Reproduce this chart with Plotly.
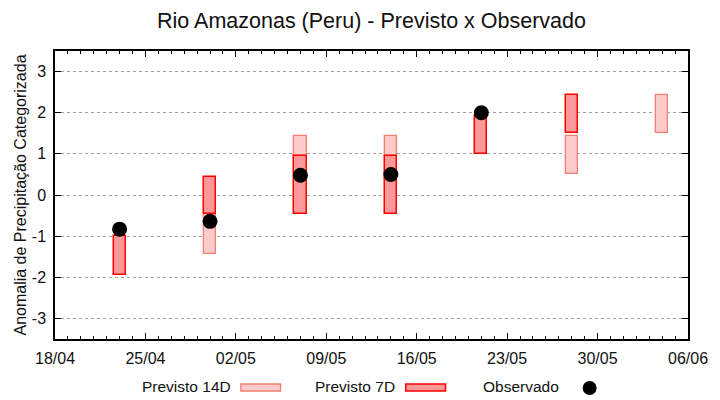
import plotly.graph_objects as go

# ---- data ----
dates = ["2024-04-23", "2024-04-30", "2024-05-07", "2024-05-14",
         "2024-05-21", "2024-05-28", "2024-06-04"]
prev7_low = [-1.95, -0.45, -0.45, -0.45, 1.00, 1.50, None]
prev7_high = [-1.00, 0.43, 0.95, 0.95, 1.93, 2.43, None]
prev14_low = [None, -1.44, 0.95, 0.95, None, 0.50, 1.50]
prev14_high = [None, -0.45, 1.43, 1.43, None, 1.43, 2.43]
observado = [-0.83, -0.64, 0.48, 0.50, 2.00, None, None]

x_ticks = ["2024-04-18", "2024-04-25", "2024-05-02", "2024-05-09",
           "2024-05-16", "2024-05-23", "2024-05-30", "2024-06-06"]
x_ticklabels = ["18/04", "25/04", "02/05", "09/05", "16/05", "23/05", "30/05", "06/06"]
y_ticks = [-3, -2, -1, 0, 1, 2, 3]

DAY = 86400000
FONT = "Liberation Sans, Arial, sans-serif"


def ranges(lows, highs):
    xs, bases, hs = [], [], []
    for d, lo, hi in zip(dates, lows, highs):
        if lo is None or hi is None:
            continue
        xs.append(d)
        bases.append(lo)
        hs.append(hi - lo)
    return xs, bases, hs


fig = go.Figure()

x14, b14, h14 = ranges(prev14_low, prev14_high)
fig.add_trace(go.Bar(x=x14, y=h14, base=b14, width=[0.94 * DAY] * len(x14),
                     marker=dict(color="#ffcaca", line=dict(color="#f08070", width=1.3)),
                     name="Previsto 14D", showlegend=False))

x7, b7, h7 = ranges(prev7_low, prev7_high)
fig.add_trace(go.Bar(x=x7, y=h7, base=b7, width=[0.94 * DAY] * len(x7),
                     marker=dict(color="#ff9999", line=dict(color="#ff0000", width=1.5)),
                     name="Previsto 7D", showlegend=False))

xo = [d for d, v in zip(dates, observado) if v is not None]
yo = [v for v in observado if v is not None]
fig.add_trace(go.Scatter(x=xo, y=yo, mode="markers",
                         marker=dict(color="black", size=15),
                         name="Observado", showlegend=False))

# ---- layout geometry (pixels) ----
W, H = 720, 400
L, R, T, B = 55, 692, 51, 339
pw, ph = R - L, B - T


def px(xp):
    return (xp - L) / pw


def py(yp):
    return (B - yp) / ph


shapes = []
annotations = []
# custom legend (gnuplot-like: text then swatch)
leg_y = 386
for text, tx_end, sw0, sw1, fill, edge, ew in [
    ("Previsto 14D", 234, 242, 282, "#ffcaca", "#f08070", 1.3),
    ("Previsto 7D", 399, 408, 448, "#ff9999", "#ff0000", 1.5),
]:
    annotations.append(dict(xref="paper", yref="paper", x=px(tx_end), y=py(leg_y),
                            text=text, showarrow=False, xanchor="right", yanchor="middle",
                            font=dict(family=FONT, size=15.5, color="#111111")))
    shapes.append(dict(type="rect", xref="paper", yref="paper",
                       x0=px(sw0), x1=px(sw1), y0=py(391), y1=py(384),
                       fillcolor=fill, line=dict(color=edge, width=ew)))
annotations.append(dict(xref="paper", yref="paper", x=px(564), y=py(leg_y),
                        text="Observado", showarrow=False, xanchor="right", yanchor="middle",
                        font=dict(family=FONT, size=15.5, color="#111111")))
shapes.append(dict(type="circle", xref="paper", yref="paper",
                   xsizemode="pixel", ysizemode="pixel",
                   xanchor=px(593), yanchor=py(388),
                   x0=-7, x1=7, y0=-7, y1=7,
                   fillcolor="black", line=dict(color="black", width=0)))

fig.update_layout(
    width=W, height=H,
    margin=dict(l=L, r=W - R, t=T, b=H - B, pad=0),
    paper_bgcolor="white", plot_bgcolor="white",
    font=dict(family=FONT, size=16, color="#111111"),
    title=dict(text="Rio Amazonas (Peru) - Previsto x Observado",
               xref="paper", x=0.5, xanchor="center", y=1 - 20 / H, yanchor="middle",
               font=dict(family=FONT, size=21.5, color="#111111")),
    barmode="overlay",
    bargap=0,
    shapes=shapes,
    annotations=annotations,
    showlegend=False,
)

fig.update_xaxes(
    type="date",
    range=["2024-04-18", "2024-06-06"],
    tickmode="array", tickvals=x_ticks, ticktext=x_ticklabels,
    ticks="inside", ticklen=6, tickwidth=1, tickcolor="black",
    minor=dict(dtick=DAY, ticks="inside", ticklen=3, tickwidth=1, tickcolor="black",
               tick0="2024-04-18", showgrid=False),
    showline=True, linecolor="black", linewidth=1.5, mirror="ticks",
    showgrid=False, zeroline=False,
    ticklabelstandoff=4,
    tickfont=dict(family=FONT, size=16, color="#111111"),
)

fig.update_yaxes(
    range=[-3.5, 3.5],
    tickmode="array", tickvals=y_ticks, ticktext=[str(v) for v in y_ticks],
    ticks="inside", ticklen=6, tickwidth=1, tickcolor="black",
    showline=True, linecolor="black", linewidth=1.5, mirror="ticks",
    showgrid=True, gridcolor="#a0a0a0", griddash="dot", gridwidth=1,
    zeroline=False,
    ticklabelstandoff=4,
    tickfont=dict(family=FONT, size=16, color="#111111"),
    title=dict(text="Anomalia de Precipitação Categorizada", standoff=1,
               font=dict(family=FONT, size=16, color="#111111")),
    automargin=False,
)

fig.write_html("out.html", config={"displayModeBar": False},
               post_script="document.body.style.margin='0px';document.body.style.overflow='hidden';")
